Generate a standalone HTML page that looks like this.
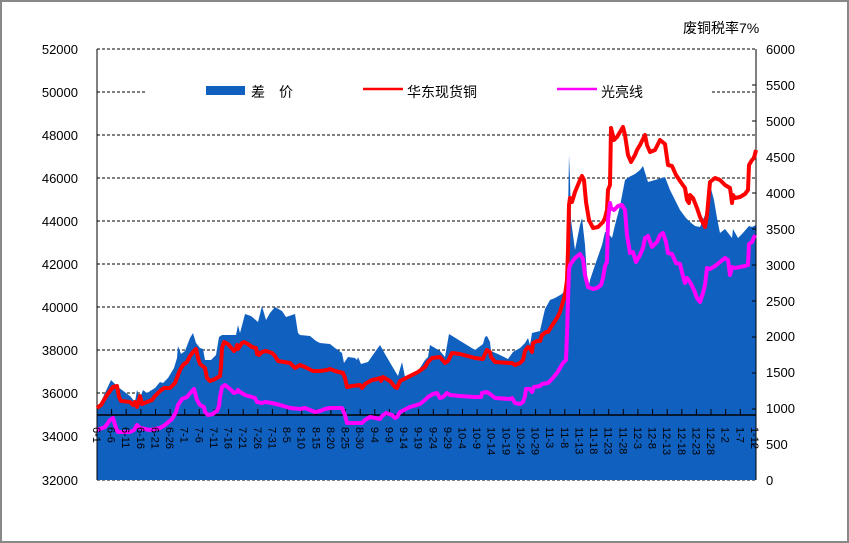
<!DOCTYPE html>
<html><head><meta charset="utf-8"><style>
body{margin:0;background:#fff}
svg{display:block;font-family:"Liberation Sans","Noto Sans CJK SC",sans-serif}
</style></head><body>
<svg width="849" height="543" viewBox="0 0 849 543" xmlns="http://www.w3.org/2000/svg">
<rect x="1" y="1" width="847" height="541" fill="#fff" stroke="#888" stroke-width="2"/>
<g stroke="#000" stroke-width="1" stroke-dasharray="3,2">
<line x1="97" y1="49" x2="756" y2="49"/><line x1="97" y1="92" x2="756" y2="92"/>
<line x1="97" y1="135" x2="756" y2="135"/><line x1="97" y1="178" x2="756" y2="178"/>
<line x1="97" y1="221" x2="756" y2="221"/><line x1="97" y1="264" x2="756" y2="264"/>
<line x1="97" y1="307" x2="756" y2="307"/><line x1="97" y1="350" x2="756" y2="350"/>
<line x1="97" y1="393" x2="756" y2="393"/><line x1="97" y1="480" x2="756" y2="480"/>
</g>
<polygon fill="#1060C0" points="97,480 97,410 105,393 111,380 118,387 130,396 135,402 137,390 140,398 143,390 147,393 155,388 160,382 163,383 168,378 174,368 177,358 178,346 181,354 185,351 190,338 193,333 196,343 200,348 203,349 205,360 211,360 216,355 219,337 222,335 236,335 238,325 240,333 245,314 251,316 258,322 261,310 262,306 266,320 270,313 275,307 282,311 286,317 295,314 298,333 300,335 310,336 316,341 320,343 330,344 335,348 342,353 344,363 348,357 355,358 357,360 358,357 361,364 368,362 375,352 380,345 385,354 392,366 398,376 400,369 402,362 405,377 418,371 425,360 428,357 430,345 440,351 445,357 449,334 475,350 483,344 485,337 487,336 490,342 491,351 500,355 508,359 513,352 520,348 525,343 528,338 530,345 532,333 540,331 542,322 545,309 550,300 555,298 562,294 565,290 567,260 568,215 569,155 570,180 571,220 575,250 580,225 582,218 585,245 588,290 590,280 595,265 602,245 605,232 608,233 612,238 615,225 620,206 625,180 629,177 635,174 640,170 643,166 648,182 655,180 665,177 670,190 675,200 680,210 686,218 690,222 695,226 700,227 702,222 705,215 710,185 714,200 717,218 720,233 725,229 732,238 733,229 738,238 742,234 749,226 752,227 756,225 756,480"/>
<rect x="145" y="78" width="565" height="28" fill="#fff"/>
<line x1="97" y1="415" x2="756" y2="415" stroke="#000" stroke-width="1.5"/>
<g stroke="#000" stroke-width="1">
<line x1="97" y1="49" x2="97" y2="480"/><line x1="756" y1="49" x2="756" y2="480"/>
</g>
<path stroke="#000" stroke-width="1" fill="none" d="M111.6 409V415M126.2 409V415M140.9 409V415M155.5 409V415M170.1 409V415M184.7 409V415M199.3 409V415M214 409V415M228.6 409V415M243.2 409V415M257.8 409V415M272.4 409V415M287.1 409V415M301.7 409V415M316.3 409V415M330.9 409V415M345.5 409V415M360.2 409V415M374.8 409V415M389.4 409V415M404 409V415M418.6 409V415M433.3 409V415M447.9 409V415M462.5 409V415M477.1 409V415M491.7 409V415M506.4 409V415M521 409V415M535.6 409V415M550.2 409V415M564.8 409V415M579.5 409V415M594.1 409V415M608.7 409V415M623.3 409V415M637.9 409V415M652.6 409V415M667.2 409V415M681.8 409V415M696.4 409V415M711 409V415M725.7 409V415M740.3 409V415M752 85H756M752 121H756M752 157H756M752 193H756M752 229H756M752 265H756M752 301H756M752 337H756M752 373H756M752 409H756M752 444H756"/>
<polyline fill="none" stroke="#ff0000" stroke-width="4" stroke-linejoin="round" points="97,408 101,405 107,395 113,387 117,386 119,397 121,401 130,402 133,405 135,402 137,407 140,396 142,404 147,402 152,400 155,396 160,391 164,388 170,388 175,383 178,375 180,370 183,365 187,362 190,356 193,352 196,349 198,358 200,364 205,368 207,378 210,381 215,379 220,376 221,366 222,348 224,342 228,344 234,351 236,349 237,345 238,349 242,343 244,342 248,344 252,347 256,348 257,354 258,352 259,355 262,352 266,351 272,353 275,356 278,361 284,362 290,363 295,368 300,365 305,367 313,371 320,371 327,370 330,369 335,371 343,373 345,378 347,387 352,386 360,385 362,388 365,384 372,380 377,379 380,378 381,381 383,377 390,381 395,387 397,388 400,381 410,376 418,372 425,367 428,362 432,358 440,357 445,363 448,361 452,353 460,354 475,358 483,359 484,356 487,350 490,352 491,357 495,362 510,363 512,363 515,365 520,363 523,360 525,351 528,347 530,348 532,352 533,343 537,341 540,341 542,335 546,332 548,332 553,324 557,318 560,312 562,305 565,295 567,280 568,250 569,205 570,198 572,202 575,192 580,180 582,176 584,180 586,202 589,220 593,228 598,227 603,222 605,218 607,210 608,190 610,185 611,128 614,140 617,137 620,132 623,127 625,135 628,155 631,162 635,155 637,150 640,145 645,135 647,145 650,152 655,150 660,140 665,144 668,165 672,166 676,175 680,181 685,188 687,200 689,203 690,195 693,198 697,208 700,217 705,227 707,215 710,182 715,178 720,180 725,185 730,188 731,195 732,203 733,195 735,198 740,197 745,194 748,190 749,165 752,160 754,158 756,150"/>
<polyline fill="none" stroke="#ff00ff" stroke-width="4" stroke-linejoin="round" points="97,430 105,427 110,420 113,418 116,428 118,432 130,432 134,430 137,425 140,428 150,430 160,428 165,425 172,419 176,412 178,405 182,399 187,397 192,391 194,389 197,400 200,405 204,407 205,412 208,415 213,414 215,412 217,411 219,406 220,397 222,387 225,385 230,389 234,393 237,392 238,390 240,392 245,395 255,398 257,402 262,403 265,402 272,403 280,405 290,408 300,409 305,408 310,410 315,412 320,411 325,409 330,408 342,408 345,415 347,423 355,423 362,423 365,420 370,417 380,419 382,416 386,413 392,415 395,418 397,417 400,412 410,407 420,404 425,400 428,397 433,394 437,393 440,398 443,397 447,393 450,395 460,396 475,397 481,397 482,393 487,392 490,394 495,398 510,399 512,398 515,403 520,404 523,402 525,396 526,389 530,389 532,392 534,387 540,386 542,384 548,383 552,379 557,373 560,368 563,363 566,360 567,335 568,300 569,270 570,265 575,258 580,254 583,259 585,275 588,287 593,289 597,288 601,285 603,278 605,266 607,262 608,220 610,203 611,208 614,210 618,206 622,205 625,210 627,235 630,253 633,252 636,262 640,255 643,248 645,238 648,236 652,247 657,242 660,235 663,233 666,242 668,253 672,254 676,263 680,264 683,276 685,283 687,278 690,282 694,290 697,298 700,302 703,293 705,285 707,268 710,269 715,266 720,262 725,258 728,260 730,275 732,267 735,268 745,266 748,265 749,244 752,242 755,235"/>
<g font-size="13" fill="#000" text-anchor="end">
<text x="78" y="54">52000</text><text x="78" y="97">50000</text><text x="78" y="140">48000</text>
<text x="78" y="183">46000</text><text x="78" y="226">44000</text><text x="78" y="269">42000</text>
<text x="78" y="312">40000</text><text x="78" y="355">38000</text><text x="78" y="398">36000</text>
<text x="78" y="441">34000</text><text x="78" y="485">32000</text>
</g>
<g font-size="13" fill="#000">
<text x="766" y="54">6000</text><text x="766" y="90">5500</text><text x="766" y="126">5000</text>
<text x="766" y="162">4500</text><text x="766" y="198">4000</text><text x="766" y="234">3500</text>
<text x="766" y="270">3000</text><text x="766" y="306">2500</text><text x="766" y="341">2000</text>
<text x="766" y="377">1500</text><text x="766" y="413">1000</text><text x="766" y="449">500</text>
<text x="766" y="485">0</text>
<text x="683" y="33" font-size="14">废铜税率7%</text>
</g>
<g font-size="14" fill="#000">
<rect x="206" y="86" width="39" height="9" fill="#1060C0"/>
<text x="251" y="97">差　价</text>
<line x1="363" y1="89" x2="403" y2="89" stroke="#ff0000" stroke-width="2.5"/>
<text x="407" y="97">华东现货铜</text>
<line x1="557" y1="89" x2="597" y2="89" stroke="#ff00ff" stroke-width="2.5"/>
<text x="601" y="97">光亮线</text>
</g>
<g font-size="11" fill="#000">
<text transform="translate(93,427) rotate(90)">6-1</text>
<text transform="translate(107.6,427) rotate(90)">6-6</text>
<text transform="translate(122.2,427) rotate(90)">6-11</text>
<text transform="translate(136.9,427) rotate(90)">6-16</text>
<text transform="translate(151.5,427) rotate(90)">6-21</text>
<text transform="translate(166.1,427) rotate(90)">6-26</text>
<text transform="translate(180.7,427) rotate(90)">7-1</text>
<text transform="translate(195.3,427) rotate(90)">7-6</text>
<text transform="translate(210,427) rotate(90)">7-11</text>
<text transform="translate(224.6,427) rotate(90)">7-16</text>
<text transform="translate(239.2,427) rotate(90)">7-21</text>
<text transform="translate(253.8,427) rotate(90)">7-26</text>
<text transform="translate(268.4,427) rotate(90)">7-31</text>
<text transform="translate(283.1,427) rotate(90)">8-5</text>
<text transform="translate(297.7,427) rotate(90)">8-10</text>
<text transform="translate(312.3,427) rotate(90)">8-15</text>
<text transform="translate(326.9,427) rotate(90)">8-20</text>
<text transform="translate(341.5,427) rotate(90)">8-25</text>
<text transform="translate(356.2,427) rotate(90)">8-30</text>
<text transform="translate(370.8,427) rotate(90)">9-4</text>
<text transform="translate(385.4,427) rotate(90)">9-9</text>
<text transform="translate(400,427) rotate(90)">9-14</text>
<text transform="translate(414.6,427) rotate(90)">9-19</text>
<text transform="translate(429.3,427) rotate(90)">9-24</text>
<text transform="translate(443.9,427) rotate(90)">9-29</text>
<text transform="translate(458.5,427) rotate(90)">10-4</text>
<text transform="translate(473.1,427) rotate(90)">10-9</text>
<text transform="translate(487.7,427) rotate(90)">10-14</text>
<text transform="translate(502.4,427) rotate(90)">10-19</text>
<text transform="translate(517,427) rotate(90)">10-24</text>
<text transform="translate(531.6,427) rotate(90)">10-29</text>
<text transform="translate(546.2,427) rotate(90)">11-3</text>
<text transform="translate(560.8,427) rotate(90)">11-8</text>
<text transform="translate(575.5,427) rotate(90)">11-13</text>
<text transform="translate(590.1,427) rotate(90)">11-18</text>
<text transform="translate(604.7,427) rotate(90)">11-23</text>
<text transform="translate(619.3,427) rotate(90)">11-28</text>
<text transform="translate(633.9,427) rotate(90)">12-3</text>
<text transform="translate(648.6,427) rotate(90)">12-8</text>
<text transform="translate(663.2,427) rotate(90)">12-13</text>
<text transform="translate(677.8,427) rotate(90)">12-18</text>
<text transform="translate(692.4,427) rotate(90)">12-23</text>
<text transform="translate(707,427) rotate(90)">12-28</text>
<text transform="translate(721.7,427) rotate(90)">1-2</text>
<text transform="translate(736.3,427) rotate(90)">1-7</text>
<text transform="translate(750.9,427) rotate(90)">1-12</text>
</g>
</svg>
</body></html>
